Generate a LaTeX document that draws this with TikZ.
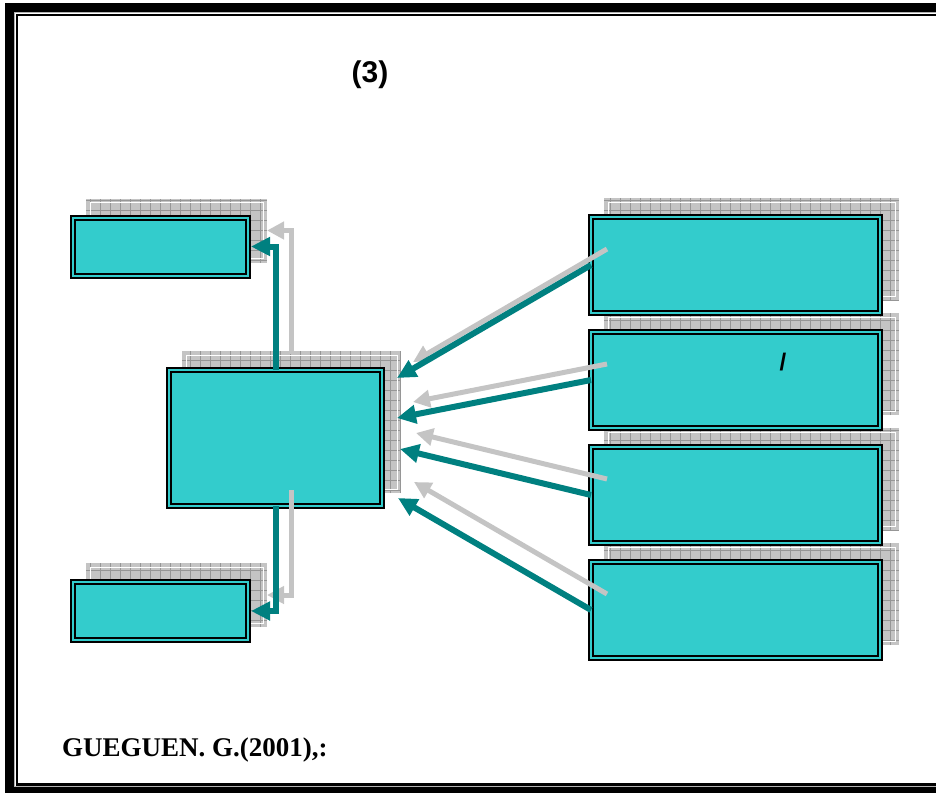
\documentclass[tikz,border=0pt]{standalone}
\usepackage{fontspec}
\usetikzlibrary{arrows.meta,positioning,backgrounds}
\newfontfamily\headfont{Liberation Sans}
\newfontfamily\notefont{Liberation Serif}
\definecolor{boxcyan}{RGB}{51,204,204}
\definecolor{flowteal}{RGB}{0,128,128}
\definecolor{shadegray}{RGB}{196,196,196}
\definecolor{gridgray}{RGB}{150,150,150}
\tikzset{
    raw box/.style={rectangle, draw=black, line width=2pt, double=boxcyan, double distance=2pt, fill=boxcyan, inner sep=0pt, outer sep=0pt},
    side box/.style={raw box, minimum width=175pt, minimum height=58pt},
    core box/.style={raw box, minimum width=213pt, minimum height=136pt},
    cause box/.style={raw box, minimum width=289pt, minimum height=96pt},
    box shade/.style={fill=shadegray, path picture={
        \draw[gridgray, line width=0.6pt, step=10pt] (path picture bounding box.south west) grid (path picture bounding box.north east);
        \draw[white, line width=0.8pt] ([shift={(4,-4)}]path picture bounding box.south west) rectangle ([shift={(-4,4)}]path picture bounding box.north east);}},
    flow/.style={draw=flowteal, line width=6pt, -{Triangle[length=19pt,width=18pt]}},
    flow shade/.style={draw=shadegray, line width=5pt, -{Triangle[length=17pt,width=17pt]}}
}
\begin{document}
\begin{tikzpicture}[x=1pt, y=-1pt, node distance=19pt]
	\useasboundingbox (0,0) rectangle (936,792);
	% frame
	\draw[line width=9pt] (9,8) rectangle (945,791);
	\draw[gray!60, line width=1pt] (14.5,13) rectangle (950,786);
	\draw[line width=2.5pt] (16.75,15.25) rectangle (950,784.5);
	\node[font=\headfont\bfseries\fontsize{30}{35}\selectfont, anchor=base] (title) at (370,82) {(3)};
	% boxes
	\node[side box] (gain) at (160.5,246.5) {};
	\node[side box] (loss) at (160.5,611) {};
	\node[core box] (core) at (275.5,438) {};
	\node[cause box] (r1) at (735.5,265) {};
	\node[cause box, below=of r1] (r2) {};
	\node[cause box, below=of r2] (r3) {};
	\node[cause box, below=of r3] (r4) {};
	\node[font=\headfont\bfseries\fontsize{24}{28}\selectfont] (mark) at (783,362) {/};
	\begin{scope}[on background layer]
		\foreach \b in {gain,loss,core,r1,r2,r3,r4}
			\path[box shade] ([shift={(13,-13)}]\b.south west) rectangle ([shift={(19,-19)}]\b.north east);
	\end{scope}
	% arrows
	\foreach \i/\tx/\ty in {1/397/378, 2/397/418, 3/400/449, 4/398/498}
		\coordinate (in\i) at (\tx,\ty);
	\draw[flow shade, shorten >=3pt] ([shift={(16,-16)}]core.north) |- ([shift={(16,-16)}]gain.east);
	\draw[flow shade, shorten >=3pt] ([shift={(16,-16)}]core.south) |- ([shift={(16,-16)}]loss.east);
	\foreach \i in {1,...,4}
		\draw[flow shade] ([shift={(16,-16)}]r\i.west) -- ([shift={(16,-16)}]in\i);
	\draw[flow, shorten >=3pt] (core.north) |- (gain.east);
	\draw[flow, shorten >=3pt] (core.south) |- (loss.east);
	\foreach \i in {1,...,4}
		\draw[flow] (r\i.west) -- (in\i);
	\node[font=\notefont\bfseries\fontsize{27}{31}\selectfont, anchor=base west, inner sep=0pt] (source) at (62,756) {GUEGUEN. G.(2001),:};
\end{tikzpicture}
\end{document}
